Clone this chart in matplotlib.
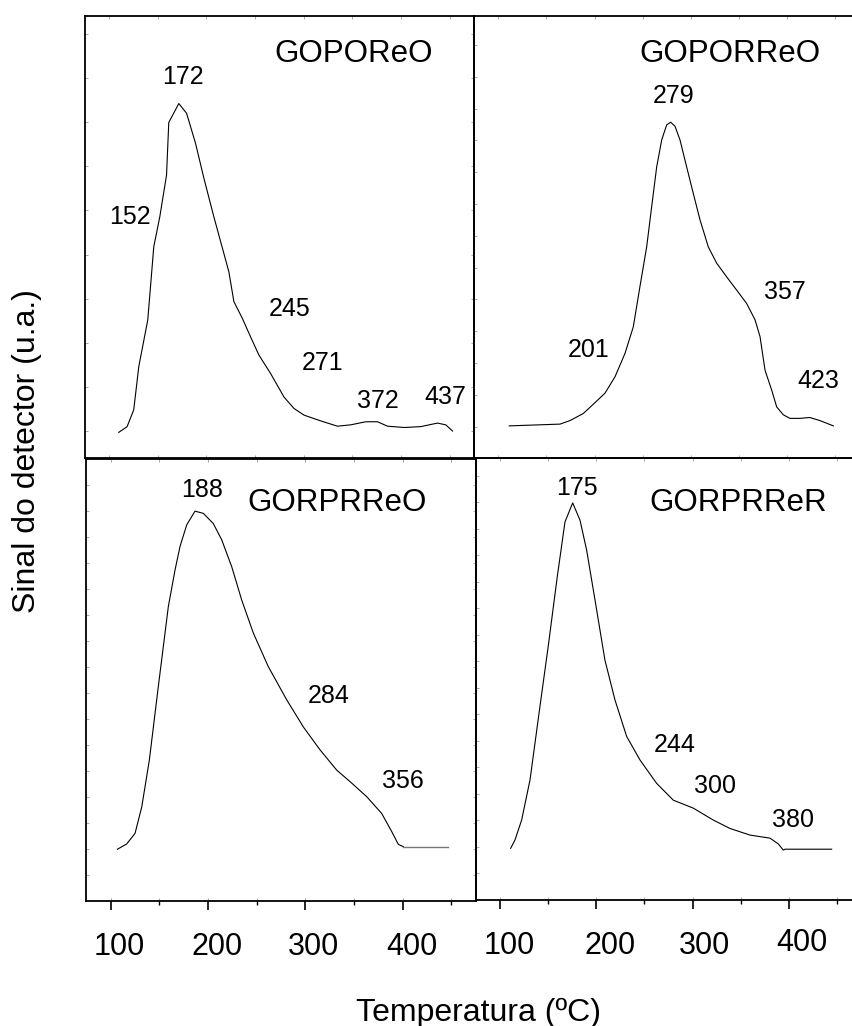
import numpy as np
import matplotlib
matplotlib.use("Agg")
import matplotlib.pyplot as plt
from matplotlib.transforms import ScaledTranslation, blended_transform_factory

plt.rcParams['font.family'] = ['Liberation Sans', 'DejaVu Sans']

# ---------------- data (temperature in ºC, signal in a.u.) ----------------
tl_x = [110.0, 118.6, 125.4, 130.6, 139.8, 146.0, 152.2, 159.1, 161.4, 171.7, 179.7, 188.9,
        197.5, 207.7, 218.0, 223.2, 228.3, 237.0, 245.5, 254.0, 266.1, 279.8, 290.1, 300.4,
        317.5, 334.7, 348.4, 363.8, 375.9, 386.2, 403.3, 420.4, 437.6, 446.1, 453.1]
tl_y = [5.8, 7.1, 10.9, 20.7, 31.2, 47.8, 54.6, 64.0, 75.9, 80.2, 78.0, 71.2,
        63.3, 54.6, 46.3, 42.1, 35.4, 31.6, 27.4, 23.3, 19.1, 13.8, 11.2, 9.7,
        8.4, 7.2, 7.5, 8.2, 8.2, 7.2, 6.9, 7.1, 7.9, 7.5, 6.1]

tr_x = [111.4, 164.1, 174.5, 188.3, 198.7, 210.8, 221.2, 231.6, 240.2, 247.1, 254.1, 259.3,
        264.5, 269.7, 274.9, 279.0, 283.5, 288.7, 295.6, 302.5, 309.5, 318.1, 326.8, 337.2,
        347.6, 357.9, 366.6, 371.8, 377.0, 383.9, 389.1, 396.0, 402.9, 413.3, 423.5, 434.0, 447.9]
tr_y = [7.2, 7.6, 8.4, 10.0, 12.1, 14.6, 18.3, 23.6, 29.6, 38.7, 47.7, 56.8,
        65.8, 71.9, 75.3, 75.9, 75.0, 71.9, 65.8, 59.8, 53.8, 47.7, 44.0, 40.9,
        37.9, 34.9, 31.2, 27.4, 19.8, 15.3, 11.5, 9.7, 8.9, 8.9, 9.1, 8.4, 7.2]

bl_x = [106.8, 116.4, 125.0, 131.9, 139.7, 148.9, 159.2, 166.1, 171.2, 178.1, 186.6, 195.2,
        205.4, 214.1, 224.4, 234.6, 246.6, 262.0, 280.9, 297.9, 315.1, 332.3, 346.0, 363.1,
        378.5, 388.8, 395.6, 400.7, 447.0]
bl_y = [11.7, 12.9, 15.3, 21.3, 31.9, 48.5, 66.6, 74.9, 80.2, 85.1, 88.2, 87.7,
        85.4, 81.7, 75.6, 68.1, 60.6, 53.0, 45.5, 39.4, 34.2, 29.6, 27.0, 23.6,
        19.8, 15.7, 12.8, 12.3, 12.3]

br_x = [111.1, 115.6, 122.5, 131.2, 141.5, 150.2, 159.5, 167.5, 175.5, 183.1, 190.0, 198.7,
        209.0, 219.4, 231.6, 245.4, 262.7, 280.0, 300.7, 321.5, 338.8, 359.6, 380.4, 389.0,
        394.2, 396.0, 444.4]
br_y = [11.7, 13.6, 18.1, 27.2, 43.8, 57.6, 73.2, 85.6, 89.9, 86.0, 79.2, 67.9,
        54.3, 45.3, 37.0, 31.7, 26.4, 22.6, 20.8, 18.1, 16.2, 14.7, 14.0, 12.7,
        11.3, 11.5, 11.5]

titles = ["GOPOReO", "GOPORReO", "GORPRReO", "GORPRReR"]

tl_peaks = ["172", "152", "245", "271", "372", "437"]
tr_peaks = ["279", "201", "357", "423"]
bl_peaks = ["188", "284", "356"]
br_peaks = ["175", "244", "300", "380"]

xticks_major = [100, 200, 300, 400]
xticks_minor = [150, 250, 350, 450]
xlabel = "Temperatura (ºC)"
ylabel = "Sinal do detector (u.a.)"

# ---------------- layout (positions) ----------------
W, H = 852, 1026
fig = plt.figure(figsize=(W / 100, H / 100), dpi=100)

def px_axes(left, top, width, height):
    return fig.add_axes([left / W, 1 - (top + height) / H, width / W, height / H])

ax_tl = px_axes(84.7, 16.0, 389.2, 442.0)
ax_tr = px_axes(474.2, 15.7, 385.2, 442.0)
ax_bl = px_axes(86.4, 459.0, 389.2, 442.0)
ax_br = px_axes(475.9, 458.3, 385.2, 441.7)

# positions of texts in data coordinates
title_pos = [(351.4, 91.4), (340.6, 91.3), (333.1, 90.0), (347.5, 89.9)]
tl_pos = [(176.0, 86.2), (121.0, 54.5), (285.6, 33.7), (319.6, 21.5), (375.9, 13.0), (445.9, 13.7)]
tr_pos = [(281.7, 81.9), (194.2, 24.4), (398.1, 37.5), (432.3, 17.4)]
bl_pos = [(194.3, 93.0), (323.6, 46.4), (400.7, 27.1)]
br_pos = [(179.6, 93.3), (281.7, 35.1), (323.3, 25.7), (404.6, 18.1)]

ytick_sets = [np.arange(6, 100, 10.0), np.arange(7.0, 100, 7.2),
              np.arange(5.9, 100, 5.88), np.arange(6.0, 100, 6.0)]

axes = [ax_tl, ax_tr, ax_bl, ax_br]
curves = [(tl_x, tl_y), (tr_x, tr_y), (bl_x, bl_y), (br_x, br_y)]
peaks = [(tl_peaks, tl_pos), (tr_peaks, tr_pos), (bl_peaks, bl_pos), (br_peaks, br_pos)]

for i, ax in enumerate(axes):
    ax.set_xlim(75, 475)
    ax.set_ylim(0, 100)
    ax.set_facecolor('none')
    for sp in ax.spines.values():
        sp.set_linewidth(1.3)
        sp.set_color('black')
    x, y = curves[i]
    if i == 2:
        ax.plot(x[:-1], y[:-1], color='black', lw=0.8, solid_joinstyle='round')
        ax.plot(x[-2:], y[-2:], color='#777777', lw=1.0)
    else:
        ax.plot(x, y, color='black', lw=0.8, solid_joinstyle='round')
    tx, ty = title_pos[i]
    ax.text(tx, ty, titles[i], fontsize=22.5, ha='center', va='center')
    labels, pos = peaks[i]
    for lab, (px_, py_) in zip(labels, pos):
        ax.text(px_, py_, lab, fontsize=18, ha='center', va='center')

    # small faint inward ticks on all sides
    ax.set_xticks(xticks_major + xticks_minor)
    ax.set_yticks(ytick_sets[i])
    ax.tick_params(axis='both', which='major', direction='in', length=2.2, width=0.6,
                   color='#999999', top=True, right=True, bottom=True, left=True,
                   labelbottom=False, labelleft=False)

# bottom panels: outward major/minor ticks with manual labels
label_offsets = [[(9, 0), (9, 0), (8, 0), (9, 0)],
                 [(9, 0), (14, 0), (12, 0), (13, 3)]]
for j, ax in enumerate([ax_bl, ax_br]):
    sec = ax.secondary_xaxis('bottom')
    sec.set_xticks(xticks_major)
    sec.set_xticks(xticks_minor, minor=True)
    sec.tick_params(which='major', direction='out', length=6.2, width=1.2, labelbottom=False)
    sec.tick_params(which='minor', direction='out', length=3.2, width=1.0)
    sec.spines['bottom'].set_visible(False)
    trans = blended_transform_factory(ax.transData, ax.transAxes)
    for v, (dx, dy) in zip(xticks_major, label_offsets[j]):
        off = ScaledTranslation(dx / 100, (-46 + dy) / 100, fig.dpi_scale_trans)
        ax.text(v, 0, str(v), transform=trans + off, fontsize=22, ha='center', va='center')

fig.text(478 / W, 1 - 1021 / H, xlabel, fontsize=23, ha='center', va='baseline')
fig.text(27.5 / W, 1 - 451 / H, ylabel, fontsize=23, ha='center', va='center', rotation=90)

fig.savefig("out.png", dpi=100)
